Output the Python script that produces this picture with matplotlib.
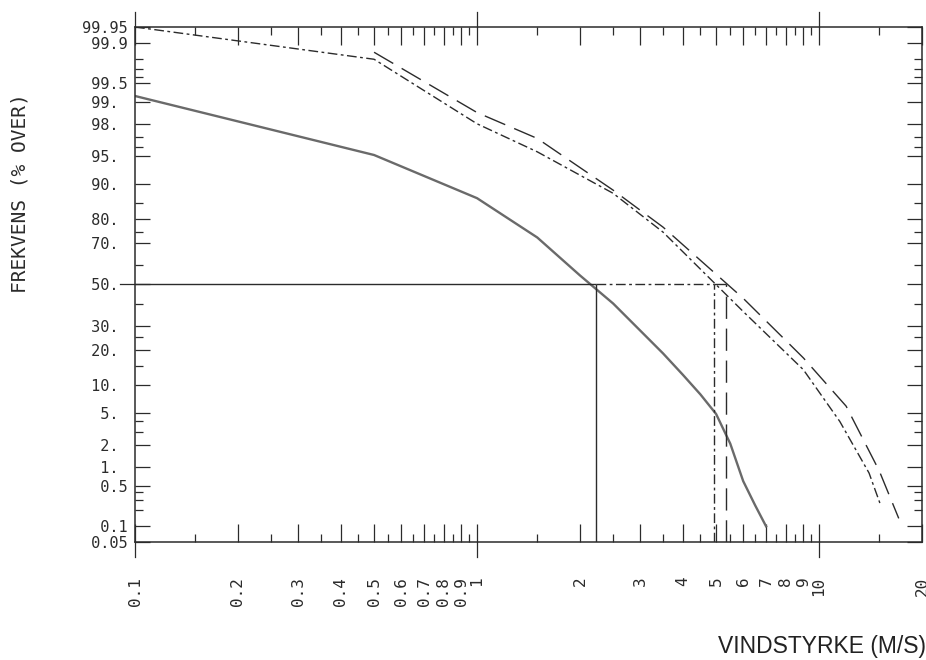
import numpy as np
import matplotlib
matplotlib.use('Agg')
import matplotlib.pyplot as plt
from matplotlib.ticker import NullFormatter
from statistics import NormalDist

# wind speed (m/s) against frequency of exceedance (% over)
x_solid = [0.1, 0.5, 1.0, 1.5, 2.0, 2.5, 3.0, 3.5, 4.0, 4.5, 5.0, 5.5, 6.0, 6.5, 7.0]
y_solid = [99.2, 95.1, 86.5, 72.6, 54.6, 40.4, 27.8, 18.9, 12.4, 8.0, 4.9, 2.1, 0.6, 0.24, 0.1]

x_dashdot = [0.1, 0.5, 1.0, 1.5, 2.5, 3.5, 6.0, 9.0, 11.5, 14.0, 15.1]
y_dashdot = [99.95, 99.8, 98.0, 95.5, 87.8, 74.8, 36.5, 13.8, 4.0, 0.8, 0.25]

x_dashed = [0.5, 1.0, 1.5, 2.5, 3.5, 6.0, 9.0, 12.0, 15.0, 17.1]
y_dashed = [99.85, 98.6, 96.9, 88.6, 76.8, 43.0, 17.4, 6.0, 0.86, 0.14]

# 50 % wind speed of each curve (solid, dash-dot, dashed)
medians = [2.23, 4.93, 5.35]
median_level = 50

x_major = [0.1, 0.2, 0.3, 0.4, 0.5, 0.6, 0.7, 0.8, 0.9,
           1, 2, 3, 4, 5, 6, 7, 8, 9, 10, 20]
x_labels = ['0.1', '0.2', '0.3', '0.4', '0.5', '0.6', '0.7', '0.8', '0.9',
            '1', '2', '3', '4', '5', '6', '7', '8', '9', '10', '20']
x_minor = [0.15, 0.25, 0.35, 0.45, 0.55, 0.65, 0.75, 0.85, 0.95,
           1.5, 2.5, 3.5, 4.5, 5.5, 6.5, 7.5, 8.5, 9.5, 15]
decades = [0.1, 1, 10]

y_major = [0.05, 0.1, 0.5, 1, 2, 5, 10, 20, 30, 50,
           70, 80, 90, 95, 98, 99, 99.5, 99.9, 99.95]
y_labels = [' 0.05', '  0.1', '  0.5', '  1.', '  2.', '  5.', ' 10.', ' 20.',
            ' 30.', ' 50.', ' 70.', ' 80.', ' 90.', ' 95.', ' 98.', ' 99.',
            ' 99.5', ' 99.9', '99.95']
y_minor = [0.2, 0.3, 0.4, 3, 4, 15, 25, 40, 60, 75, 85, 96, 97, 99.6, 99.7, 99.8]

# normal probability scale for the y axis
nd = NormalDist()
_ppf = np.vectorize(nd.inv_cdf, otypes=[float])
_cdf = np.vectorize(nd.cdf, otypes=[float])


def forward(p):
    q = np.clip(np.asarray(p, dtype=float) / 100.0, 1e-9, 1 - 1e-9)
    return _ppf(q)


def inverse(z):
    return _cdf(np.asarray(z, dtype=float)) * 100.0


ink = '#2b2b2b'
mono = 'DejaVu Sans Mono'

fig = plt.figure(figsize=(9.26, 6.6), dpi=100)
ax = fig.add_axes([0.1458, 0.1788, 0.8499, 0.7803])

ax.set_xscale('log')
ax.set_yscale('function', functions=(forward, inverse))
ax.set_xlim(0.1, 20)
ax.set_ylim(0.05, 99.95)

ax.plot(x_solid, y_solid, '-', color='#6a6a6a', lw=1.7)
ax.plot(x_dashdot, y_dashdot, color=ink, lw=1.0, ls=(0, (7, 2.5, 2, 2.5)))
ax.plot(x_dashed, y_dashed, color=ink, lw=1.0, ls=(0, (16, 7)))

# 50 % reading lines: each horizontal part starts where the previous one stops
styles = ['-', (0, (7, 2.5, 2, 2.5)), (0, (16, 7))]
starts = [0.1] + medians[:-1]
for x0, m, st in zip(starts, medians, styles):
    ax.hlines(median_level, x0, m, color=ink, lw=1.0, linestyles=[st])
    ax.vlines(m, 0.05, median_level, color=ink, lw=1.0, linestyles=[st])

ax.set_xticks(x_major, x_labels, rotation=90, family=mono, fontsize=11.5, color=ink)
ax.set_xticks(x_minor, minor=True)
ax.xaxis.set_minor_formatter(NullFormatter())
ax.set_yticks(y_major, y_labels, ha='left', family=mono, fontsize=11, color=ink)
ax.set_yticks(y_minor, minor=True)
ax.yaxis.set_minor_formatter(NullFormatter())

ax.tick_params(which='both', direction='in', top=True, right=True,
               width=0.9, color=ink)
ax.tick_params(axis='x', which='major', length=13, pad=25)
ax.tick_params(axis='x', which='minor', length=6)
ax.tick_params(axis='y', which='major', length=11, pad=38)
ax.tick_params(axis='y', which='minor', length=6)

# decade ticks and the 50 % tick cross the frame
for d in decades:
    ax.axvline(d, ymin=-0.029, ymax=0, color=ink, lw=0.9, clip_on=False)
    ax.axvline(d, ymin=1, ymax=1.029, color=ink, lw=0.9, clip_on=False)
ax.axhline(median_level, xmin=-0.019, xmax=0, color=ink, lw=0.9, clip_on=False)

for s in ax.spines.values():
    s.set_color(ink)
    s.set_linewidth(1.1)

ax.set_ylabel('FREKVENS (% OVER)', family=mono, fontsize=14, color=ink, va='center')
ax.yaxis.set_label_coords(-0.146, 0.678)
ax.set_xlabel('VINDSTYRKE (M/S)', loc='right', family='Liberation Sans',
              fontsize=16.5, color='#222222')
ax.xaxis.set_label_coords(1.005, -0.18)

fig.savefig('out.png', dpi=100)
